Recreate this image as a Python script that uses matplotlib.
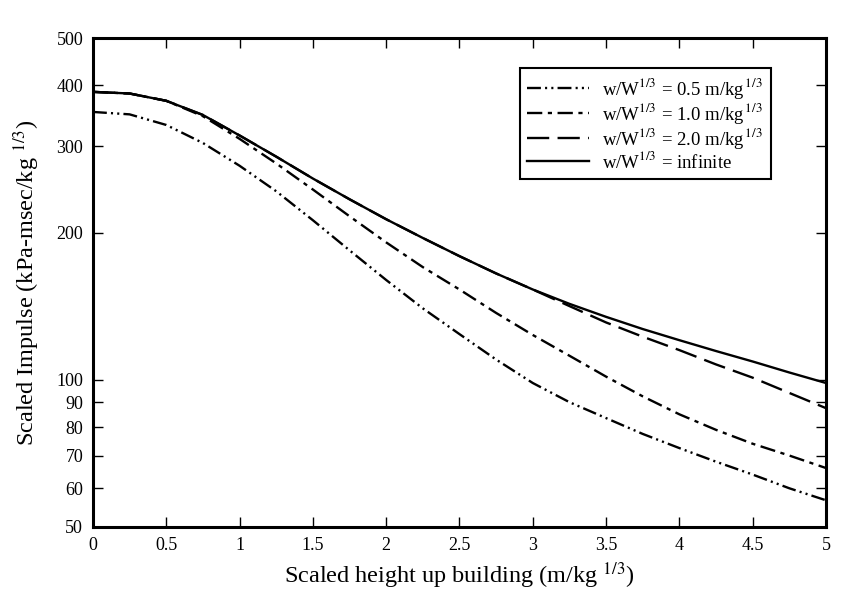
import matplotlib
matplotlib.use("Agg")
import matplotlib.pyplot as plt
from matplotlib.ticker import NullLocator, FixedLocator, FixedFormatter

plt.rcParams['font.family'] = ['Liberation Serif', 'DejaVu Serif']
plt.rcParams['mathtext.fontset'] = 'stix'
plt.rcParams['lines.scale_dashes'] = False

# scaled height (m/kg^1/3)
heights = [0, 0.25, 0.5, 0.75, 1.0, 1.25, 1.5, 1.75, 2.0, 2.25, 2.5,
           2.75, 3.0, 3.25, 3.5, 3.75, 4.0, 4.25, 4.5, 4.75, 5.0]

# scaled impulse (kPa-msec/kg^1/3) for each w/W^1/3
imp_05 = [353, 349, 332, 305, 274, 243, 212, 184, 160, 140, 124,
          110, 98.5, 90, 83.5, 77.5, 72.5, 68, 64, 60, 56.7]
imp_10 = [388, 385, 372, 346, 311, 277, 245, 216, 191, 170, 153,
          137, 123.5, 112, 101.5, 92.5, 85, 79, 74, 70, 66]
imp_20 = [388, 385, 372, 348, 316, 286, 258, 234, 213, 195, 179,
          165, 153, 141.5, 131, 122.5, 115, 107.5, 101, 94, 87.5]
imp_inf = [388, 385, 372, 348, 316, 286, 258, 234, 213, 195, 179,
           165, 153, 143, 134.5, 127, 120.5, 114.5, 109, 103.5, 98.5]

labels = [r'w/W$^{1/3}$ = 0.5 m/kg$^{\,1/3}$',
          r'w/W$^{1/3}$ = 1.0 m/kg$^{\,1/3}$',
          r'w/W$^{1/3}$ = 2.0 m/kg$^{\,1/3}$',
          r'w/W$^{1/3}$ = infinite']

xticks = [0, 0.5, 1, 1.5, 2, 2.5, 3, 3.5, 4, 4.5, 5]
xtick_labels = ['0', '0.5', '1', '1.5', '2', '2.5', '3', '3.5', '4', '4.5', '5']
yticks = [50, 60, 70, 80, 90, 100, 200, 300, 400, 500]
ytick_labels = ['50', '60', '70', '80', '90', '100', '200', '300', '400', '500']

fig = plt.figure(figsize=(8.45, 5.92), dpi=100)
ax = fig.add_axes([0.110, 0.1098, 0.8675, 0.826])

lw = 1.7
ax.plot(heights, imp_05, color='black', lw=lw,
        linestyle=(0, (10, 3, 1.5, 3, 1.5, 3)), label=labels[0])
ax.plot(heights, imp_10, color='black', lw=lw,
        linestyle=(0, (11, 4, 3, 4)), label=labels[1])
ax.plot(heights, imp_20, color='black', lw=lw,
        linestyle=(0, (16, 6)), label=labels[2])
ax.plot(heights, imp_inf, color='black', lw=lw,
        linestyle='-', label=labels[3])

ax.set_yscale('log')
ax.set_xlim(0, 5)
ax.set_ylim(50, 500)

ax.xaxis.set_major_locator(FixedLocator(xticks))
ax.xaxis.set_major_formatter(FixedFormatter(xtick_labels))
ax.yaxis.set_major_locator(FixedLocator(yticks))
ax.yaxis.set_major_formatter(FixedFormatter(ytick_labels))
ax.yaxis.set_minor_locator(NullLocator())
ax.xaxis.set_minor_locator(NullLocator())

ax.tick_params(direction='in', length=7, width=1, top=True, right=True,
               labelsize=13, pad=7)
for s in ax.spines.values():
    s.set_linewidth(2.2)

ax.set_xlabel(r'Scaled height up building (m/kg $^{1/3}$)', fontsize=17.5, labelpad=5)
ax.set_ylabel(r'Scaled Impulse (kPa-msec/kg $^{1/3}$)', fontsize=17.5, labelpad=10)

leg = ax.legend(loc='upper left', bbox_to_anchor=(0.5825, 0.938),
                fontsize=13.5, handlelength=3.3, handletextpad=0.7,
                labelspacing=0.0, borderpad=0.4, borderaxespad=0,
                fancybox=False, framealpha=1, edgecolor='black')
leg.get_frame().set_linewidth(1.5)

fig.savefig('out.png', dpi=100)
